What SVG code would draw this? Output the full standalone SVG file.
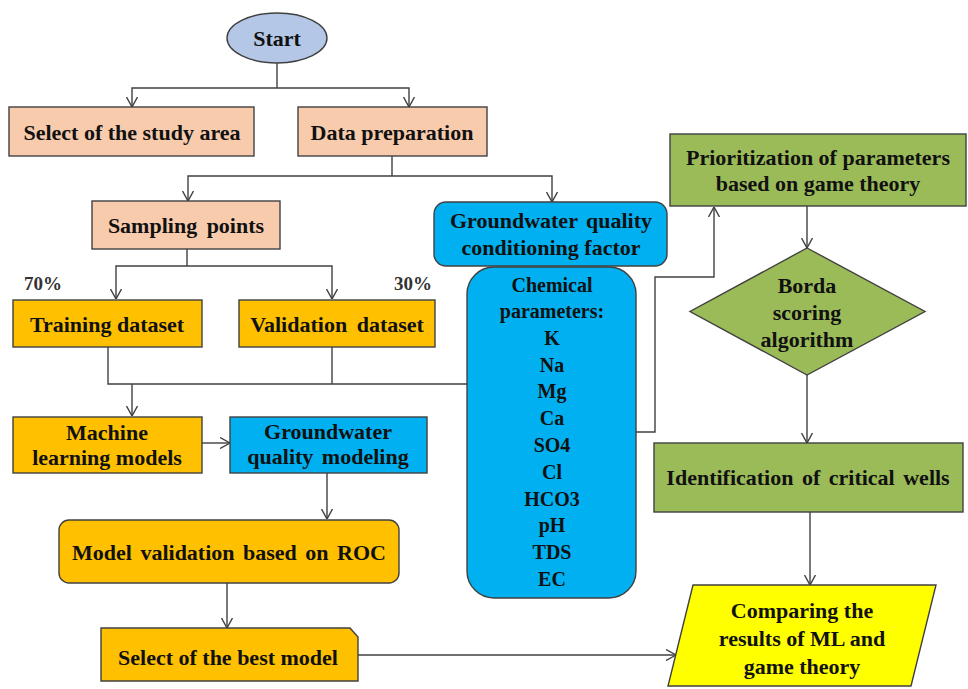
<svg xmlns="http://www.w3.org/2000/svg" width="968" height="689" viewBox="0 0 968 689">
<style>
text{font-family:"Liberation Serif","Times New Roman",serif;font-weight:bold;font-size:22px;fill:#111;text-anchor:middle}
.s20{font-size:20px}
.pct{font-size:19px;fill:#333}
.nd{stroke:#404040;stroke-width:1.4}
.peach{fill:#F8CBAD}
.orange{fill:#FFC000}
.blue{fill:#00B0F0}
.green{fill:#9BBB59}
.yellow{fill:#FFFF00}
.start{fill:#B4C7E7}
.cn{fill:none;stroke:#404040;stroke-width:1.4}
.arr{marker-end:url(#ah)}
</style>
<defs>
<marker id="ah" viewBox="0 0 10 12" refX="10" refY="6" markerWidth="10" markerHeight="12" markerUnits="userSpaceOnUse" orient="auto">
<path d="M0,0.5 L10,6 L0,11.5" fill="none" stroke="#404040" stroke-width="1.4"/>
</marker>
</defs>
<rect width="968" height="689" fill="#fff"/>
<g id="connectors">
<path class="cn" d="M277,63 V88"/>
<path class="cn arr" d="M277,88 H132 V107"/>
<path class="cn arr" d="M277,88 H409 V107"/>
<path class="cn" d="M392,156 V176"/>
<path class="cn arr" d="M392,176 H188 V201"/>
<path class="cn arr" d="M392,176 H552 V202"/>
<path class="cn" d="M187,249 V266"/>
<path class="cn arr" d="M187,266 H116 V299"/>
<path class="cn arr" d="M187,266 H332 V299"/>
<path class="cn" d="M108,347 V384 H467"/>
<path class="cn" d="M332,347 V384"/>
<path class="cn arr" d="M132,384 V416"/>
<path class="cn arr" d="M202,443 H230"/>
<path class="cn arr" d="M327,473 V519"/>
<path class="cn arr" d="M227,583 V628"/>
<path class="cn arr" d="M358,655 H676"/>
<path class="cn arr" d="M636,432 H655 V277 H714 V207"/>
<path class="cn arr" d="M807,206 V248"/>
<path class="cn arr" d="M807,375 V443"/>
<path class="cn arr" d="M810,512 V585"/>
</g>
<g id="start">
<ellipse class="nd start" cx="277" cy="38" rx="50" ry="25"/>
<text x="277" y="46">Start</text>
</g>
<g id="study-area">
<rect class="nd peach" x="9" y="107" width="245" height="49"/>
<text x="132" y="140">Select of the study area</text>
</g>
<g id="data-preparation">
<rect class="nd peach" x="298" y="107" width="189" height="49"/>
<text x="392" y="140">Data preparation</text>
</g>
<g id="sampling-points">
<rect class="nd peach" x="92" y="201" width="188" height="48"/>
<text x="186" y="233" word-spacing="4">Sampling points</text>
</g>
<g id="pct70"><text class="pct" x="43" y="290">70%</text></g>
<g id="pct30"><text class="pct" x="413" y="290">30%</text></g>
<g id="training">
<rect class="nd orange" x="13" y="300" width="189" height="47"/>
<text x="107" y="332">Training dataset</text>
</g>
<g id="validation">
<rect class="nd orange" x="239" y="300" width="196" height="47"/>
<text x="337" y="332" word-spacing="4">Validation dataset</text>
</g>
<g id="ml-models">
<rect class="nd orange" x="13" y="417" width="189" height="56"/>
<text x="107" y="440">Machine</text>
<text x="107" y="465">learning models</text>
</g>
<g id="gw-modeling">
<rect class="nd blue" x="230" y="417" width="197" height="56"/>
<text x="328" y="439">Groundwater</text>
<text x="328" y="464" word-spacing="3">quality modeling</text>
</g>
<g id="model-validation">
<rect class="nd orange" x="59" y="520" width="340" height="63" rx="10"/>
<text x="229" y="560" word-spacing="3">Model validation based on ROC</text>
</g>
<g id="best-model">
<path class="nd orange" d="M101,628 H350 L358,637 V681 H101 Z"/>
<text x="228" y="665">Select of the best model</text>
</g>
<g id="conditioning-factor">
<rect class="nd blue" x="434" y="202" width="233" height="64" rx="12"/>
<text x="551" y="228" word-spacing="3">Groundwater quality</text>
<text x="551" y="255">conditioning factor</text>
</g>
<g id="chemical-parameters">
<rect class="nd blue" x="467" y="267" width="169" height="331" rx="27"/>
<text class="s20" x="552" y="292">Chemical</text>
<text class="s20" x="552" y="318">parameters:</text>
<text class="s20" x="552" y="345">K</text>
<text class="s20" x="552" y="372">Na</text>
<text class="s20" x="552" y="398">Mg</text>
<text class="s20" x="552" y="425">Ca</text>
<text class="s20" x="552" y="452">SO4</text>
<text class="s20" x="552" y="479">Cl</text>
<text class="s20" x="552" y="506">HCO3</text>
<text class="s20" x="552" y="532">pH</text>
<text class="s20" x="552" y="559">TDS</text>
<text class="s20" x="552" y="586">EC</text>
</g>
<g id="prioritization">
<rect class="nd green" x="670" y="134" width="296" height="72"/>
<text x="818" y="165">Prioritization of parameters</text>
<text x="818" y="191">based on game theory</text>
</g>
<g id="borda">
<path class="nd green" d="M807,248 L925,311.5 L807,375 L690,311.5 Z"/>
<text x="807" y="293">Borda</text>
<text x="807" y="320">scoring</text>
<text x="807" y="347">algorithm</text>
</g>
<g id="critical-wells">
<rect class="nd green" x="654" y="443" width="309" height="69"/>
<text x="808" y="485" word-spacing="3">Identification of critical wells</text>
</g>
<g id="comparing">
<path class="nd yellow" d="M693,585 H936 L911,686 H668 Z"/>
<text x="802" y="618">Comparing the</text>
<text x="802" y="646">results of ML and</text>
<text x="802" y="674">game theory</text>
</g>
</svg>
